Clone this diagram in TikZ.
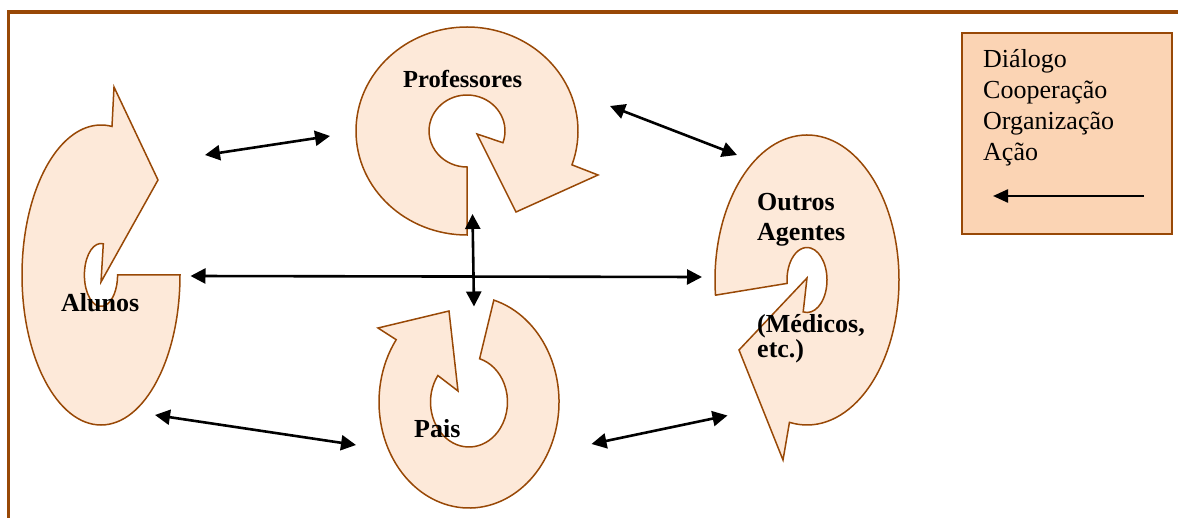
\documentclass[tikz,border=0pt]{standalone}
\usepackage{fontspec}
\setmainfont{Liberation Serif}
\usetikzlibrary{arrows.meta}
\definecolor{rim}{HTML}{984806}
\definecolor{ringfill}{HTML}{FDE9D9}
\definecolor{legendfill}{HTML}{FBD4B4}

\begin{document}
\begin{tikzpicture}[x=1pt,y=-1pt,
  ring/.style={draw=rim, fill=ringfill, line width=1.5pt, line join=miter},
  link/.style={line width=2.6pt,
    {Triangle[length=15pt,width=15pt]}-{Triangle[length=15pt,width=15pt]}},
  lbl/.style={font=\bfseries\fontsize{26}{30}\selectfont, anchor=base west, inner sep=0pt},
  keytext/.style={font=\fontsize{26}{31}\selectfont, anchor=base west, inner sep=0pt}]
\useasboundingbox (0,0) rectangle (1178,518);

% page frame: top and left rules
\draw[rim, line width=3.5pt] (8.5,518) -- (8.5,12) -- (1178,12);

% Alunos: tall circular arrow
\begin{scope}[shift={(101,275)}]
  \filldraw[ring] (0:79 and 150)
    arc[start angle=0, end angle=278, x radius=79, y radius=150]
    -- (13,-188) -- (57,-95) -- (0,7) -- (278:16.6 and 31.5)
    arc[start angle=278, end angle=0, x radius=16.6, y radius=31.5] -- cycle;
\end{scope}

% Professores
\begin{scope}[shift={(467,131)}]
  \filldraw[ring] (90:111 and 104)
    arc[start angle=90, end angle=379, x radius=111, y radius=104]
    -- (131,44) -- (49,81) -- (10,3) -- (379:38 and 36)
    arc[start angle=379, end angle=90, x radius=38, y radius=36] -- cycle;
\end{scope}

% Pais
\begin{scope}[shift={(469,402)}]
  \filldraw[ring] (-74:90 and 106)
    arc[start angle=-74, end angle=216, x radius=90, y radius=106]
    -- (-91,-74) -- (-20,-91) -- (-11,-11) -- (216:38.5 and 45)
    arc[start angle=216, end angle=-74, x radius=38.5, y radius=45] -- cycle;
\end{scope}

% Outros Agentes
\begin{scope}[shift={(807,280)}]
  \filldraw[ring] (174:92 and 145)
    arc[start angle=174, end angle=461, x radius=92, y radius=145]
    -- (-24,180) -- (-68,70) -- (0,-2) -- (461:20 and 32.5)
    arc[start angle=461, end angle=174, x radius=20, y radius=32.5] -- cycle;
\end{scope}

% labels
\node[lbl, font=\bfseries\fontsize{24.5}{30}\selectfont] (prof) at (403,88) {Professores};
\node[lbl] (alun) at (61,311.5) {Alunos};
\node[lbl] (pais) at (414,437.5) {Pais};
\node[lbl] (outros) at (757,211) {Outros};
\node[lbl] (agentes) at (757,241) {Agentes};
\node[lbl] (medicos) at (757,333) {(Médicos,};
\node[lbl] (etc) at (757,358) {etc.)};

% connector ends
\coordinate (alTop) at (205,155);   \coordinate (prLeft) at (330,136);
\coordinate (prRight) at (610,106); \coordinate (ouTop) at (737,155);
\coordinate (prBot) at (472.5,214); \coordinate (paTop) at (474,306.5);
\coordinate (alMid) at (190.5,276); \coordinate (ouMid) at (702,277);
\coordinate (alBot) at (155,415);   \coordinate (paLeft) at (356,445);
\coordinate (paRight) at (591.5,444); \coordinate (ouBot) at (727.5,415.5);

\draw[link] (alTop) -- (prLeft);
\draw[link] (prRight) -- (ouTop);
\draw[link] (prBot) -- (paTop);
\draw[link] (alMid) -- (ouMid);
\draw[link] (alBot) -- (paLeft);
\draw[link] (paRight) -- (ouBot);

% legend
\node[draw=rim, fill=legendfill, line width=1.5pt, minimum width=210pt,
      minimum height=201pt, anchor=north west, inner sep=0pt] (legend) at (961,32.5) {};
\node[keytext] (k1) at (983,67.7) {Diálogo};
\node[keytext] (k2) at (983,98.5) {Cooperação};
\node[keytext] (k3) at (983,129.5) {Organização};
\node[keytext] (k4) at (983,160.5) {Ação};
\coordinate (legR) at (1144,196); \coordinate (legL) at (993,196);
\draw[line width=2.4pt, -{Triangle[length=15pt,width=13pt]}] (legR) -- (legL);
\end{tikzpicture}
\end{document}
